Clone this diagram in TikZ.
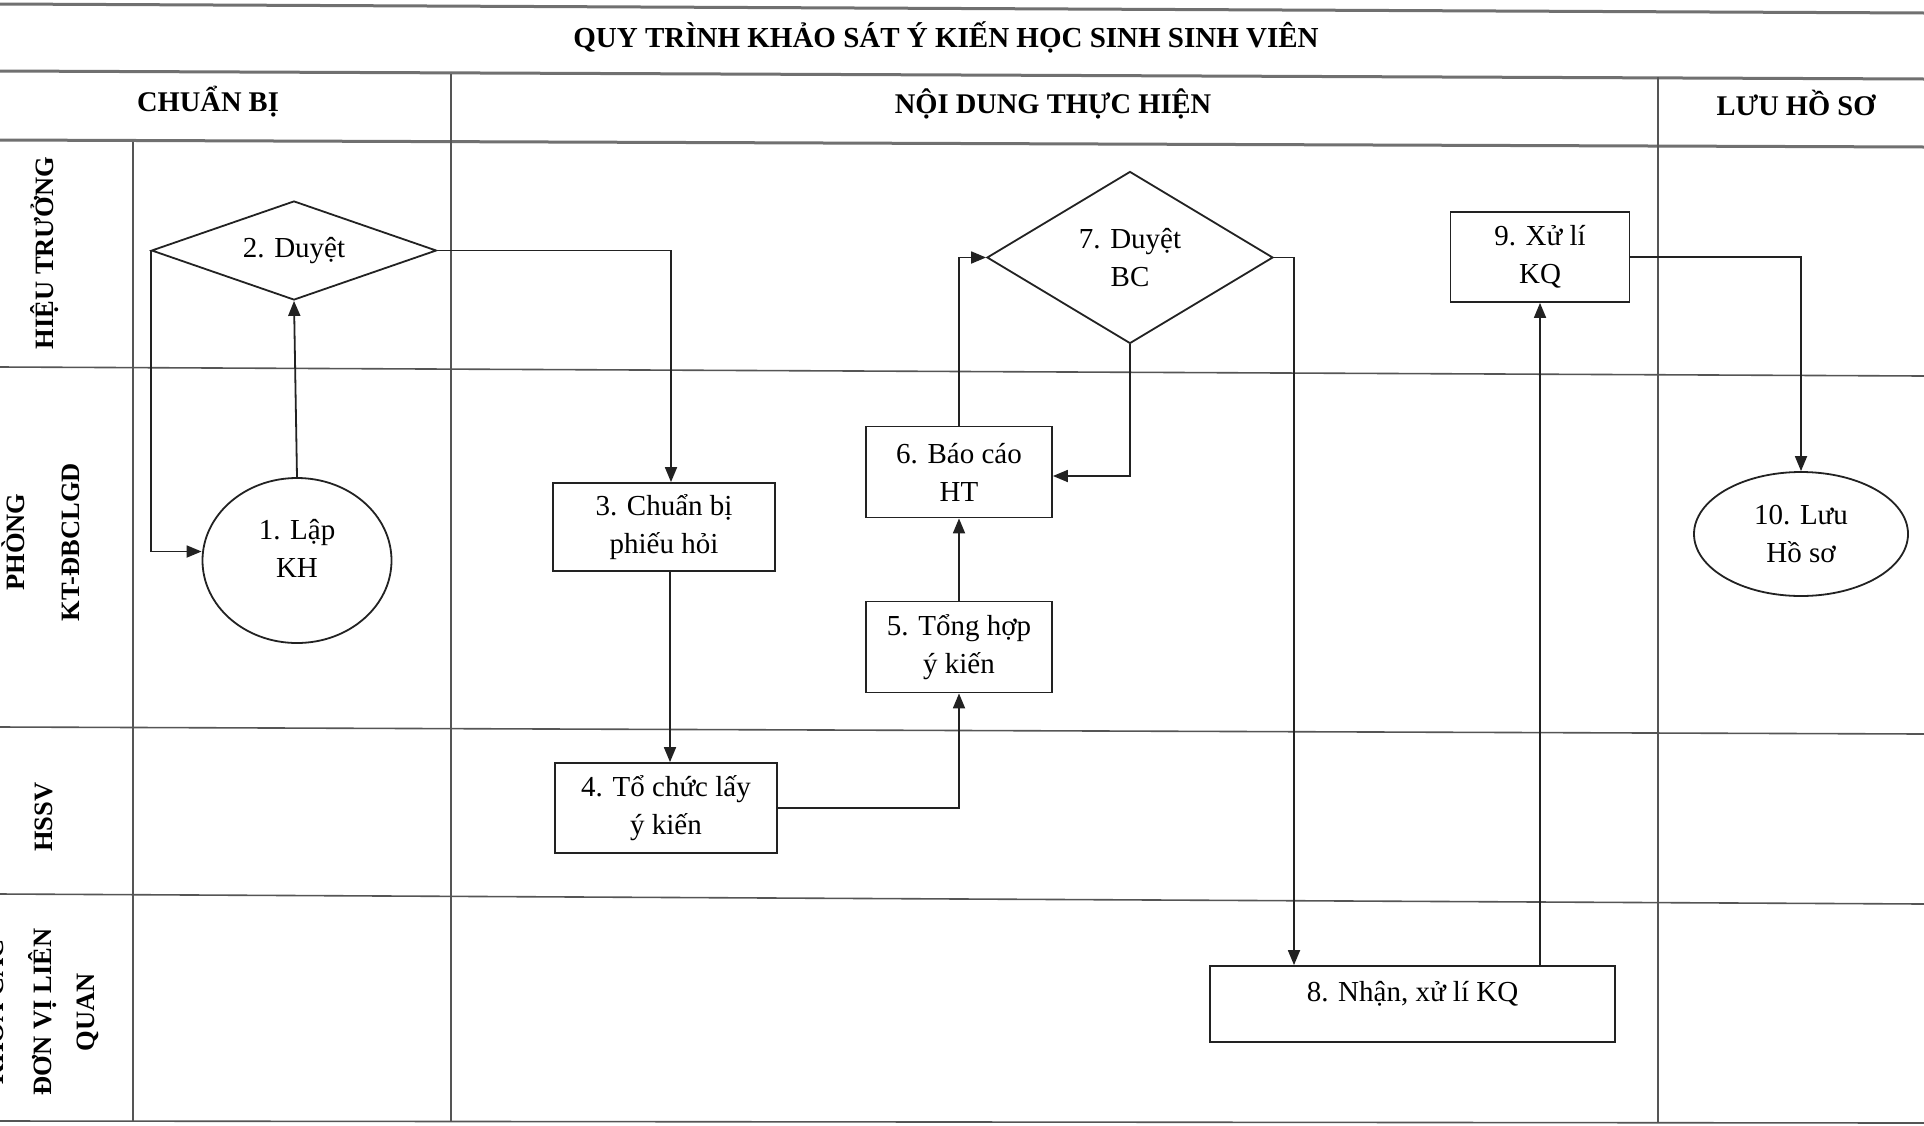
\documentclass[tikz,border=0pt]{standalone}
\usepackage{fontspec}
\setmainfont{Liberation Serif}
\usetikzlibrary{shapes.geometric,arrows.meta}
\definecolor{ink}{HTML}{222222}
\definecolor{gridc}{HTML}{555555}
\definecolor{hgridc}{HTML}{707070}
\begin{document}
\begin{tikzpicture}[x=1pt,y=-1pt,
  nodefont/.style={font=\fontsize{29}{38}\selectfont},
  hdr/.style={font=\bfseries\fontsize{28.5}{34}\selectfont, inner sep=0pt, text height=20pt, text depth=0pt},
  lane/.style={font=\bfseries\fontsize{26.5}{32}\selectfont, rotate=90, inner sep=0pt, text height=18pt, text depth=0pt},
  box/.style={draw=ink, line width=1.8pt, rectangle, nodefont, align=center, inner sep=0pt},
  dia/.style={draw=ink, line width=1.8pt, diamond, nodefont, align=center, inner sep=0pt},
  ell/.style={draw=ink, line width=1.8pt, ellipse, nodefont, align=center, inner sep=0pt},
  arr/.style={draw=ink, line width=1.8pt, -{Triangle[length=15pt,width=12pt]}},
  hline/.style={draw=hgridc, line width=3pt},
  gline/.style={draw=gridc, line width=1.6pt},
]
\useasboundingbox (0,0) rectangle (1924,1125);
\fill[white] (0,0) rectangle (1924,1125);

% grid
\draw[hline] (0,4) -- (1924,13);
\draw[hline] (0,71) -- (1924,79);
\draw[hline] (0,140) -- (1924,147);
\draw[gline] (0,367) -- (1924,376);
\draw[gline] (0,727) -- (1924,734);
\draw[gline] (0,894) -- (1924,904);
\draw[gline] (0,1121) -- (1924,1123);
\draw[gline] (133,142) -- (133,1121);
\draw[gline] (451,74) -- (451,1121);
\draw[gline] (1658,77) -- (1658,1122);

% headers
\node[hdr, font=\bfseries\fontsize{29}{34}\selectfont] (title) at (946,37) {QUY TRÌNH KHẢO SÁT Ý KIẾN HỌC SINH SINH VIÊN};
\node[hdr] (h1) at (208,101) {CHUẨN BỊ};
\node[hdr] (h2) at (1053,103) {NỘI DUNG THỰC HIỆN};
\node[hdr] (h3) at (1796,105) {LƯU HỒ SƠ};

% lane labels
\node[lane] (l1) at (44,253) {HIỆU TRƯỞNG};
\node[lane] (l2a) at (15,542) {PHÒNG};
\node[lane] (l2b) at (70,542) {KT-ĐBCLGD};
\node[lane] (l3) at (43,817) {HSSV};
\node[lane] (l4a) at (-5,1012) {KHOA CÁC};
\node[lane] (l4b) at (42,1012) {ĐƠN VỊ LIÊN};
\node[lane] (l4c) at (85,1012) {QUAN};

% nodes
\node[dia, aspect=2.9, minimum width=285pt, minimum height=99pt] (n2) at (294,250.5) {2. Duyệt};
\node[ell, minimum width=189pt, minimum height=165pt, text depth=24pt] (n1) at (297,560.5) {1. Lập\\KH};
\node[box, minimum width=222pt, minimum height=88pt] (n3) at (664,527) {3. Chuẩn bị\\phiếu hỏi};
\node[box, minimum width=222pt, minimum height=90pt] (n4) at (666,808) {4. Tổ chức lấy\\ý kiến};
\node[box, minimum width=186pt, minimum height=91pt] (n5) at (959,647) {5. Tổng hợp\\ý kiến};
\node[box, minimum width=186pt, minimum height=91pt] (n6) at (959,472) {6. Báo cáo\\HT};
\node[dia, aspect=1.66, minimum width=286pt, minimum height=172pt] (n7) at (1130,257.5) {7. Duyệt\\BC};
\node[box, minimum width=405pt, minimum height=76pt, text depth=25pt] (n8) at (1412.5,1004) {8. Nhận, xử lí KQ};
\node[box, minimum width=179pt, minimum height=90pt] (n9) at (1540,257) {9. Xử lí\\KQ};
\node[ell, minimum width=214pt, minimum height=124pt] (n10) at (1801,534) {10. Lưu\\Hồ sơ};

% connectors
\draw[arr] (n1.north) -- (n2.south);
\draw[arr] (n2.west) |- ([yshift=9pt]n1.west);
\draw[arr] (n2.east) -| ([xshift=7pt]n3.north);
\draw[arr] ([xshift=6pt]n3.south) -- ([xshift=6pt]n3.south |- n4.north);
\draw[arr] (n4.east) -| (n5.south);
\draw[arr] (n5.north) -- (n6.south);
\draw[arr] (n6.north) |- (n7.west);
\draw[arr] (n7.south) |- ([yshift=-4pt]n6.east);
\draw[arr] (n7.east) -| ([xshift=-118.5pt]n8.north);
\draw[arr] (n9.south |- n8.north) -- (n9.south);
\draw[arr] (n9.east) -| (n10.north);
\end{tikzpicture}
\end{document}
